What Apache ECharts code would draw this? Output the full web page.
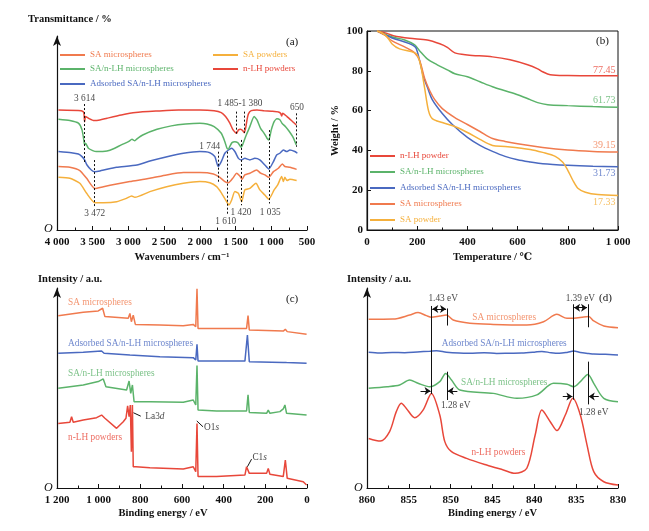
<!DOCTYPE html>
<html lang="en">
  <head>
    <meta charset="UTF-8" />
    <title>FTIR / TGA / XPS</title>
    <script src="https://cdn.jsdelivr.net/npm/echarts@6/dist/echarts.min.js"></script>
    <style>
      html, body { margin: 0; background: #fff; }
      #main { width: 649px; height: 531px; }
    </style>
  </head>
  <body>
    <div id="main"></div>
    <script>
      // ---- (a) FTIR, [wavenumber, transmittance a.u.] ----
      const ftirSAMicro = [[3980,33.4],[3820,33.0],[3680,31.3],[3585,27.2],[3470,21.9],[3350,22.8],[3165,24.2],[2980,25.5],[2700,27.2],[2465,29.0],[2230,30.2],[2000,30.2],[1810,29.5],[1720,27.7],[1650,25.5],[1600,24.9],[1530,27.7],[1485,29.9],[1440,28.4],[1410,26.7],[1370,29.0],[1300,29.9],[1205,31.6],[1150,29.9],[1090,29.0],[1035,27.7],[970,30.7],[900,32.5],[845,34.8],[810,33.4],[740,33.0],[645,31.9]];
      const ftirSAPowder = [[3980,27.7],[3820,27.2],[3680,24.6],[3585,19.3],[3470,14.4],[3350,14.4],[3165,14.9],[3025,16.7],[2955,17.9],[2910,17.2],[2700,20.2],[2465,22.8],[2230,24.6],[2000,25.5],[1860,24.9],[1765,22.8],[1695,19.3],[1625,14.9],[1592,13.2],[1555,15.8],[1510,20.2],[1460,19.3],[1415,14.9],[1370,21.1],[1300,21.9],[1215,24.6],[1160,21.1],[1090,18.4],[1035,16.2],[960,21.1],[910,23.7],[855,28.1],[830,25.5],[810,27.7],[780,26.0],[740,26.7],[645,26.0]];
      const ftirSAnLH = [[3980,58.3],[3820,57.6],[3700,56.2],[3650,52.7],[3625,47.4],[3614,44.8],[3600,45.6],[3560,43.0],[3500,41.8],[3450,41.3],[3300,41.6],[3200,42.9],[3100,44.8],[3000,46.5],[2950,47.7],[2910,47.0],[2880,48.0],[2800,50.0],[2600,53.0],[2400,54.8],[2200,55.8],[2000,56.2],[1900,55.8],[1800,54.4],[1700,50.9],[1650,46.5],[1620,43.0],[1600,42.5],[1580,44.0],[1550,46.0],[1510,46.5],[1470,46.0],[1440,44.5],[1420,43.5],[1400,45.0],[1350,50.0],[1300,54.4],[1240,59.7],[1200,58.0],[1150,53.5],[1100,50.9],[1060,48.3],[1035,47.4],[1000,52.7],[960,57.0],[920,58.5],[880,58.0],[850,56.2],[800,54.4],[750,52.0],[700,49.1],[650,44.8]];
      const ftirNLH = [[3980,63.2],[3660,62.8],[3625,61.8],[3614,57.0],[3600,59.7],[3560,58.8],[3480,57.6],[3400,57.9],[3300,58.8],[3100,60.5],[2900,61.8],[2600,62.6],[2300,63.2],[2000,63.2],[1800,62.8],[1700,61.8],[1640,59.7],[1580,56.2],[1540,53.0],[1500,51.2],[1485,50.9],[1460,52.7],[1430,53.0],[1400,52.3],[1380,51.2],[1360,53.5],[1340,57.9],[1320,61.1],[1280,62.8],[1200,63.2],[1100,62.8],[1000,62.5],[900,62.1],[870,61.4],[855,60.0],[840,61.4],[780,59.7],[700,57.0],[650,55.3]];
      const ftirAdsorbed = [[3980,41.3],[3800,40.7],[3700,40.0],[3650,38.6],[3614,36.9],[3580,34.2],[3520,31.6],[3470,30.7],[3400,31.1],[3300,32.0],[3165,33.0],[2880,34.2],[2700,36.3],[2460,38.6],[2230,40.4],[2000,41.3],[1860,40.7],[1790,38.6],[1744,33.4],[1700,36.0],[1650,40.4],[1600,42.1],[1555,43.0],[1510,41.3],[1460,37.7],[1420,36.9],[1370,37.7],[1300,36.9],[1230,37.7],[1160,36.9],[1090,34.2],[1035,32.1],[970,36.0],[925,39.5],[880,40.4],[830,42.1],[785,41.3],[740,42.1],[670,41.3],[635,40.4]];
      // peak marks: [wavenumber, top, bottom]
      const ftirPeakLines = [[3614,66.3,35.2],[3472,36.8,12.2],[1744,41.2,24.9],[1610,41.2,8.0],[1420,47.4,13.0],[1035,52.6,14.0],[1485,62.3,50.5],[1380,62.3,51.0],[650,61.4,43.8]];

      // ---- (b) TGA, [temperature, weight %] ----
      const tgaNLH = [[40,100],[80,98.8],[105,97.6],[170,96.3],[240,95.5],[290,93.6],[320,91.8],[350,89],[400,88],[500,87],[570,85.5],[640,83],[680,81],[700,79.5],[730,78],[800,77.6],[900,77.5],[1000,77.45]];
      const tgaSAnLH = [[40,100],[100,97],[150,95.5],[190,93],[210,90],[240,86],[280,83],[320,80.5],[350,78.5],[400,77],[450,74.5],[500,72],[550,70],[600,68],[650,65.5],[680,64],[720,63],[800,62.5],[900,62],[1000,61.73]];
      const tgaAdsorbed = [[40,100],[100,96.5],[150,94.5],[180,93],[195,91.5],[210,85],[225,77],[240,72],[260,65.5],[300,58.5],[340,53],[400,46.5],[450,42.5],[500,39.5],[550,37],[600,35.3],[650,34.2],[700,33.3],[800,32.5],[900,32],[1000,31.73]];
      const tgaSAMicro = [[40,100],[70,98],[100,95],[150,92],[190,89],[210,85],[230,76],[250,70],[270,65.5],[300,61],[350,56.5],[400,53],[450,49.5],[500,46],[550,44.5],[600,43.3],[700,41.5],[800,40.2],[900,39.5],[1000,39.15]];
      const tgaSAPowder = [[40,100],[60,99],[80,97],[100,93.5],[130,91],[180,89.5],[200,88],[215,82],[230,71],[245,60],[260,56],[300,54],[350,52],[400,49],[450,45.5],[500,42.5],[550,42],[650,40.5],[700,39],[750,37],[780,34],[800,30],[820,25],[840,21],[870,19],[920,17.8],[1000,17.33]];
      const tgaResidue = [77.45, 61.73, 39.15, 31.73, 17.33];

      // ---- (c) XPS survey, [binding energy, intensity a.u.] ----
      const xpsSAMicro = [[1194,90.7],[1074,92.5],[1002,93.2],[981,94.6],[970,90.2],[858,89.3],[850,91.9],[843,87.5],[834,91.0],[824,86.1],[706,85.8],[594,85.4],[546,86.1],[534,84.9],[528,104.8],[523,84.0],[434,84.0],[290,84.0],[283,90.7],[277,83.2],[114,82.6],[104,83.5],[95,82.3],[2,80.9]];
      const xpsAdsorbed = [[1194,70.9],[1074,71.4],[986,72.1],[974,70.9],[850,70.0],[842,69.1],[706,69.1],[546,68.6],[534,67.4],[528,75.6],[523,66.8],[434,66.8],[298,66.8],[286,80.5],[277,66.5],[114,66.1],[106,66.8],[98,66.0],[2,65.6]];
      const xpsSAnLH = [[1194,52.5],[1138,53.3],[1134,54.2],[1074,54.2],[1002,56.0],[978,57.4],[965,53.3],[866,51.6],[854,56.3],[846,49.8],[838,54.2],[830,45.4],[754,45.4],[594,45.1],[546,46.3],[534,43.7],[528,64.5],[523,41.1],[434,40.5],[290,40.5],[283,49.0],[277,39.8],[194,39.3],[186,41.0],[178,39.3],[130,40.2],[114,41.6],[106,43.7],[98,39.3],[2,38.4]];
      const xpsNLH = [[1194,34.0],[1138,34.6],[1130,37.5],[1122,34.6],[1074,35.8],[1010,37.0],[986,38.4],[978,39.3],[970,36.7],[914,31.4],[882,34.9],[869,36.7],[861,43.3],[854,37.5],[848,43.7],[843,19.1],[838,43.7],[834,11.2],[821,11.2],[754,10.7],[594,10.0],[546,11.2],[534,8.6],[528,34.0],[523,6.0],[434,6.0],[298,6.8],[290,11.2],[277,7.7],[194,7.7],[186,10.3],[178,7.2],[114,6.0],[104,14.7],[95,5.1],[18,3.3],[10,4.2],[2,1.6]];

      // ---- (d) La3d XPS, [binding energy, intensity a.u.] ----
      const laSAMicro = [[859.8,88.8],[856.9,88.9],[854.9,91.0],[853.9,92.3],[852.9,90.7],[852.3,89.8],[851.3,90.5],[850.5,91.0],[849.7,88.4],[847.7,86.7],[844.9,86.1],[840.9,85.8],[838.9,87.5],[837.3,91.4],[836.1,89.3],[835.3,89.3],[834.1,90.0],[833.5,90.2],[832.9,87.9],[831.7,85.3],[830.0,84.4]];
      const laAdsorbed = [[859.8,71.4],[858.5,71.0],[857,71.3],[855.5,71.2],[854,71.6],[852.5,72.0],[851.7,72.3],[850.5,71.5],[849,71.0],[847.7,70.9],[846,71.2],[844.5,70.8],[843,70.9],[841.5,71.0],[840,71.5],[839.1,71.9],[838,71.2],[837,70.9],[836,71.5],[835.3,72.1],[834.5,71.3],[833.5,70.8],[832.9,70.5],[831.5,70.4],[830,70.0]];
      const laSAnLH = [[859.8,52.5],[857.6,53.3],[856.1,54.2],[854.9,56.8],[853.9,55.1],[852.5,53.3],[851.3,56.0],[850.6,60.3],[849.9,56.8],[848.9,51.6],[844.9,49.8],[842.1,47.2],[839.7,49.0],[837.7,55.1],[836.1,54.6],[835.3,53.3],[834.5,56.0],[833.6,59.8],[832.9,55.1],[831.7,47.2],[830.0,45.4]];
      const laNLH = [[859.8,26.1],[858.4,24.7],[857.3,29.7],[856.5,40.2],[855.9,44.6],[855.3,41.9],[854.3,37.0],[853.3,41.0],[852.3,49.8],[851.3,38.4],[850.7,24.4],[849.9,19.1],[848.1,15.6],[845.7,12.1],[843.7,9.5],[842.3,7.7],[840.9,10.4],[839.9,27.9],[839.1,41.0],[838.1,34.9],[837.3,30.2],[836.3,38.4],[835.4,47.2],[834.5,38.4],[833.7,22.6],[832.9,8.6],[831.7,3.3],[830.0,1.6]];

      const ink = '#111';
      const serif = "'Liberation Serif', 'DejaVu Serif', serif";
      const col = { red: '#e8473a', green: '#5bb36a', blue: '#4a69c0', orange: '#f07a4e', yellow: '#f5b03c' };
      const noteSize = 9.3;

      const fmtK = (v) => (v >= 1000 ? Math.floor(v / 1000) + ' ' + String(v % 1000).padStart(3, '0') : String(v));

      function line(name, data, color, gi, smooth) {
        return {
          type: 'line', name, data, xAxisIndex: gi, yAxisIndex: gi,
          symbol: 'none', smooth: smooth, clip: false,
          lineStyle: { color, width: 1.5 }, itemStyle: { color }
        };
      }

      // text notes + marker lines, placed in data coordinates
      function notes(gi, items, lines) {
        return {
          type: 'scatter', xAxisIndex: gi, yAxisIndex: gi, symbolSize: 1, silent: true, z: 10,
          itemStyle: { color: 'rgba(0,0,0,0)' },
          label: { show: true, position: 'inside', fontFamily: serif, fontSize: noteSize, color: ink },
          data: items.map(([x, y, text, opt]) => ({ value: [x, y], label: Object.assign({ formatter: text }, opt || {}) })),
          markLine: {
            silent: true, animation: false, symbol: 'none', symbolSize: 6,
            label: { show: false },
            lineStyle: { color: ink, width: 1, type: 'solid' },
            data: lines || []
          }
        };
      }

      function xAxis(gi, o) {
        return Object.assign({
          gridIndex: gi, type: 'value',
          axisLine: { show: true, onZero: false, lineStyle: { color: ink, width: 1.2 } },
          axisTick: { show: true, inside: true, length: 4, lineStyle: { color: ink } },
          minorTick: { show: true, splitNumber: 2, length: 2.5, lineStyle: { color: ink } },
          splitLine: { show: false },
          axisLabel: { color: ink, fontFamily: serif, fontSize: 11, fontWeight: 'bold', margin: 7, formatter: fmtK },
          nameLocation: 'middle',
          nameTextStyle: { color: ink, fontFamily: serif, fontSize: 10.5, fontWeight: 'bold' }
        }, o);
      }
      function bareY(gi, max) {
        return {
          gridIndex: gi, type: 'value', min: 0, max,
          axisLine: { show: true, onZero: false, symbol: ['none', 'arrow'], symbolSize: [6, 10], lineStyle: { color: ink, width: 1.2 } },
          axisTick: { show: false }, axisLabel: { show: false }, splitLine: { show: false }
        };
      }

      function legendAt(left, top, names, colors, orient) {
        return {
          left, top, orient: orient || 'horizontal', padding: 0, itemGap: 4,
          icon: 'rect', itemWidth: 25, itemHeight: 2, selectedMode: false,
          textStyle: { fontFamily: serif, fontSize: 9, lineHeight: 12 },
          data: names.map((n, i) => ({ name: n, textStyle: { color: colors[i] } }))
        };
      }

      const dotted = (x, y1, y2) => [{ coord: [x, y1], lineStyle: { type: [2, 2] } }, { coord: [x, y2] }];
      const seg = (x1, y1, x2, y2, s1, s2) => [{ coord: [x1, y1], symbol: s1 || 'none' }, { coord: [x2, y2], symbol: s2 || 'none' }];
      const chem = (a, b) => ({
        formatter: '{n|' + a + '}{i|' + b + '}', align: 'left',
        rich: { n: { fontSize: noteSize, color: ink }, i: { fontSize: noteSize, color: ink, fontStyle: 'italic' } }
      });

      const titleFont = 'bold 10.5px ' + serif;
      const chart = echarts.init(document.getElementById('main'));
      chart.setOption({
        animation: false,
        textStyle: { fontFamily: serif },
        grid: [
          { left: 57, top: 36, width: 250, height: 194 },
          { left: 367, top: 31, width: 251, height: 199, show: true, borderColor: ink, borderWidth: 1 },
          { left: 57, top: 288, width: 250, height: 200 },
          { left: 367, top: 288, width: 251, height: 200 }
        ],
        xAxis: [
          xAxis(0, { min: 500, max: 4000, interval: 500, inverse: true, name: 'Wavenumbers / cm⁻¹', nameGap: 22 }),
          xAxis(1, { min: 0, max: 1000, interval: 200, name: 'Temperature / ℃', nameGap: 22 }),
          xAxis(2, { min: 0, max: 1200, interval: 200, inverse: true, name: 'Binding energy / eV', nameGap: 20,
            nameTextStyle: { color: ink, fontFamily: serif, fontSize: 10.5, fontWeight: 'bold', padding: [0, 38, 0, 0] } }),
          xAxis(3, { min: 830, max: 860, interval: 5, inverse: true, name: 'Binding energy / eV', nameGap: 20 })
        ],
        yAxis: [
          bareY(0, 102.1),
          {
            gridIndex: 1, type: 'value', min: 0, max: 100, interval: 20,
            axisLine: { show: true, onZero: false, lineStyle: { color: ink, width: 1.2 } },
            axisTick: { show: true, inside: true, length: 4, lineStyle: { color: ink } },
            splitLine: { show: false },
            axisLabel: { color: ink, fontFamily: serif, fontSize: 11, fontWeight: 'bold', margin: 4 },
            name: 'Weight / %', nameLocation: 'middle', nameGap: 26,
            nameTextStyle: { color: ink, fontFamily: serif, fontSize: 10.5, fontWeight: 'bold' }
          },
          bareY(2, 105.26),
          bareY(3, 105.26)
        ],
        legend: [
          legendAt(60, 49, ['SA microspheres'], [col.orange]),
          legendAt(213, 49, ['SA powders'], [col.yellow]),
          legendAt(60, 63, ['SA/n-LH microspheres'], [col.green]),
          legendAt(213, 63, ['n-LH powders'], [col.red]),
          legendAt(60, 78, ['Adsorbed SA/n-LH microspheres'], [col.blue]),
          legendAt(370, 150,
            ['n-LH powder', 'SA/n-LH microspheres', 'Adsorbed SA/n-LH microspheres', 'SA microspheres', 'SA powder'],
            [col.red, col.green, col.blue, col.orange, col.yellow], 'vertical')
        ],
        graphic: [
          { type: 'text', left: 28, top: 14, style: { text: 'Transmittance / %', font: titleFont, fill: ink } },
          { type: 'text', left: 38, top: 274, style: { text: 'Intensity / a.u.', font: titleFont, fill: ink } },
          { type: 'text', left: 347, top: 274, style: { text: 'Intensity / a.u.', font: titleFont, fill: ink } },
          { type: 'text', left: 286, top: 37, style: { text: '(a)', font: '11px ' + serif, fill: ink } },
          { type: 'text', left: 596, top: 36, style: { text: '(b)', font: '11px ' + serif, fill: ink } },
          { type: 'text', left: 286, top: 294, style: { text: '(c)', font: '11px ' + serif, fill: ink } },
          { type: 'text', left: 599, top: 293, style: { text: '(d)', font: '11px ' + serif, fill: ink } },
          { type: 'text', left: 44, top: 223, style: { text: 'O', font: 'italic 12px ' + serif, fill: ink } },
          { type: 'text', left: 44, top: 482, style: { text: 'O', font: 'italic 12px ' + serif, fill: ink } },
          { type: 'text', left: 354, top: 482, style: { text: 'O', font: 'italic 12px ' + serif, fill: ink } }
        ],
        series: [
          // (a)
          line('SA microspheres', ftirSAMicro, col.orange, 0, 0.2),
          line('SA powders', ftirSAPowder, col.yellow, 0, 0.2),
          line('Adsorbed SA/n-LH microspheres', ftirAdsorbed, col.blue, 0, 0.2),
          line('SA/n-LH microspheres', ftirSAnLH, col.green, 0, 0.2),
          line('n-LH powders', ftirNLH, col.red, 0, 0.2),
          notes(0, [
            [3614, 69.2, '3 614'], [3472, 8.4, '3 472'], [1862, 43.8, '1 744'], [1637, 4.6, '1 610'],
            [1424, 9.4, '1 420'], [1014, 9.2, '1 035'], [1438, 66.3, '1 485-1 380'], [640, 64.2, '650']
          ], ftirPeakLines.map((p) => dotted(p[0], p[1], p[2]))),
          // (b)
          line('n-LH powder', tgaNLH, col.red, 1, 0.3),
          line('SA/n-LH microspheres', tgaSAnLH, col.green, 1, 0.3),
          line('Adsorbed SA/n-LH microspheres', tgaAdsorbed, col.blue, 1, 0.3),
          line('SA microspheres', tgaSAMicro, col.orange, 1, 0.3),
          line('SA powder', tgaSAPowder, col.yellow, 1, 0.3),
          notes(1, [
            [990, 80.4, tgaResidue[0].toFixed(2), { align: 'right', color: col.red, fontSize: 10 }],
            [990, 65.3, tgaResidue[1].toFixed(2), { align: 'right', color: col.green, fontSize: 10 }],
            [990, 42.4, tgaResidue[2].toFixed(2), { align: 'right', color: col.orange, fontSize: 10 }],
            [990, 28.6, tgaResidue[3].toFixed(2), { align: 'right', color: col.blue, fontSize: 10 }],
            [990, 14.1, tgaResidue[4].toFixed(2), { align: 'right', color: col.yellow, fontSize: 10 }]
          ]),
          // (c)
          line('SA microspheres', xpsSAMicro, col.orange, 2, false),
          line('Adsorbed SA/n-LH microspheres', xpsAdsorbed, col.blue, 2, false),
          line('SA/n-LH microspheres', xpsSAnLH, col.green, 2, false),
          line('n-LH powders', xpsNLH, col.red, 2, false),
          notes(2, [
            [1147, 97.4, 'SA microspheres', { align: 'left', color: col.orange }],
            [1147, 75.8, 'Adsorbed SA/n-LH microspheres', { align: 'left', color: col.blue }],
            [1147, 60.0, 'SA/n-LH microspheres', { align: 'left', color: col.green }],
            [1147, 26.3, 'n-LH powders', { align: 'left', color: col.red }],
            [776, 37.6, '', chem('La3', 'd')],
            [494, 31.8, '', chem('O1', 's')],
            [262, 15.8, '', chem('C1', 's')]
          ], [
            seg(833, 39.6, 798, 37.8), seg(529, 35.3, 499, 32.2), seg(286, 11.2, 266, 15.2)
          ]),
          // (d)
          line('SA microspheres', laSAMicro, col.orange, 3, 0.3),
          line('Adsorbed SA/n-LH microspheres', laAdsorbed, col.blue, 3, 0.3),
          line('SA/n-LH microspheres', laSAnLH, col.green, 3, 0.3),
          line('n-LH powders', laNLH, col.red, 3, 0.3),
          notes(3, [
            [843.6, 89.6, 'SA microspheres', { color: col.orange }],
            [843.6, 75.8, 'Adsorbed SA/n-LH microspheres', { color: col.blue }],
            [843.6, 55.4, 'SA/n-LH microspheres', { color: col.green }],
            [844.3, 18.6, 'n-LH powders', { color: col.red }],
            [850.9, 99.5, '1.43 eV'], [834.5, 99.8, '1.39 eV'],
            [849.4, 43.2, '1.28 eV'], [832.9, 39.6, '1.28 eV']
          ], [
            seg(852.3, 49.5, 852.3, 95.8), seg(850.45, 85.5, 850.45, 94.5), seg(850.45, 46.3, 850.45, 61.2),
            seg(835.35, 46.5, 835.35, 96.7), seg(833.6, 84.6, 833.6, 96.7), seg(833.6, 44.0, 833.6, 66.5),
            seg(852.2, 94.2, 850.55, 94.2, 'arrow', 'arrow'), seg(835.25, 94.9, 833.7, 94.9, 'arrow', 'arrow'),
            seg(853.6, 51.0, 852.4, 51.0, 'none', 'arrow'), seg(849.2, 51.0, 850.35, 51.0, 'none', 'arrow'),
            seg(836.6, 48.1, 835.45, 48.1, 'none', 'arrow'), seg(832.3, 48.1, 833.5, 48.1, 'none', 'arrow')
          ])
        ]
      });
    </script>
  </body>
</html>
